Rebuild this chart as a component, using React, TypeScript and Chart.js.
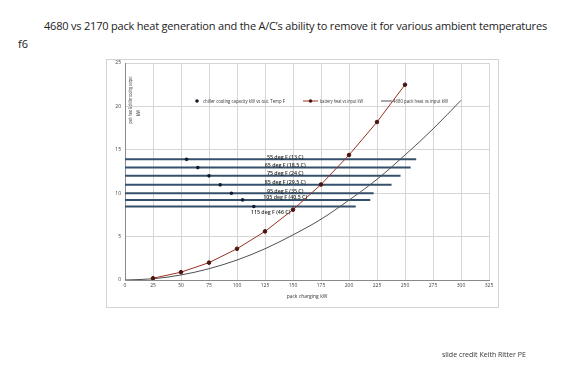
import React, { useEffect, useRef } from "react";
import { Chart, registerables } from "chart.js";

Chart.register(...registerables);

// chiller cooling capacity vs outside temperature
const chillerTempF = [55, 65, 75, 85, 95, 105, 115];
const chillerCapacityKw = [13.9, 12.95, 12.0, 10.96, 10.0, 9.23, 8.46];
const tempLineEndKw = [260, 255, 246, 238, 222, 219, 206];
const tempLabels = [
  "55 deg F (13 C)",
  "65 deg F (18.5 C)",
  "75 deg F (24 C)",
  "85 deg F (29.5 C)",
  "95 deg F (35 C)",
  "105 deg F (40.5 C)",
  "115 deg F (46 C)",
];

// battery (2170) heat vs charging power
const batteryChargeKw = [25, 50, 75, 100, 125, 150, 175, 200, 225, 250];
const batteryHeatKw = [0.2, 0.9, 2.0, 3.6, 5.6, 8.1, 11.0, 14.4, 18.2, 22.5];

// 4680 pack heat vs charging power
const pack4680ChargeKw = [0, 25, 50, 75, 100, 125, 150, 175, 200, 225, 250, 275, 300];
const pack4680HeatKw = [0, 0.14, 0.58, 1.3, 2.3, 3.6, 5.2, 7.0, 9.2, 11.6, 14.4, 17.4, 20.7];

const xTicksMax = 325;
const yTicksMax = 25;

const TITLE = "4680 vs 2170 pack heat generation and the A/C\u2019s ability to remove it for various ambient temperatures";
const Y_TITLE_1 = "pack heat & chiller cooling output";
const Y_TITLE_2 = "kW";
const X_TITLE = "pack charging kW";

const LINE_BLUE = "#34506b";
const RED = "#9a3020";
const FONT = "'Open Sans', sans-serif";
const LABEL_X_KW = 143;

function fitText(ctx: CanvasRenderingContext2D, text: string, x: number, y: number, width: number) {
  const w = ctx.measureText(text).width;
  const s = width / w;
  ctx.save();
  ctx.translate(x, y);
  ctx.scale(s, 1);
  ctx.fillText(text, 0, 0);
  ctx.restore();
}

export default function App() {
  const ref = useRef<HTMLCanvasElement>(null);

  useEffect(() => {
    const canvas = ref.current!;
    const tempDatasets = chillerCapacityKw.map((v, i) => ({
      type: "line" as const,
      label: tempLabels[i],
      data: [
        { x: 0, y: v },
        { x: tempLineEndKw[i], y: v },
      ],
      borderColor: LINE_BLUE,
      borderWidth: 2,
      pointRadius: 0,
      showLine: true,
    }));

    const decor = {
      id: "decor",
      beforeDraw(chart: any) {
        const ctx = chart.ctx;
        ctx.save();
        ctx.strokeStyle = "#d4d4d4";
        ctx.lineWidth = 1;
        ctx.strokeRect(106.5, 59.5, 392, 248);
        ctx.restore();
      },
      afterDatasetsDraw(chart: any) {
        const ctx = chart.ctx;
        const xs = chart.scales.x;
        const ys = chart.scales.y;
        ctx.save();
        // temperature labels
        ctx.font = `600 5.3px ${FONT}`;
        ctx.fillStyle = "#1e1e1e";
        ctx.textAlign = "center";
        ctx.textBaseline = "middle";
        tempLabels.forEach((t, i) => {
          const last = i === tempLabels.length - 1;
          const x = xs.getPixelForValue(last ? LABEL_X_KW - 13 : LABEL_X_KW);
          const y = ys.getPixelForValue(chillerCapacityKw[i]) + (last ? 6 : -2);
          ctx.fillText(t, x, y);
        });
        // legend
        const ds = chart.data.datasets;
        const ly = 101;
        ctx.font = `5.5px ${FONT}`;
        ctx.textAlign = "left";
        ctx.fillStyle = "#333";
        // item 1: marker only
        ctx.beginPath();
        ctx.fillStyle = ds[0].backgroundColor;
        ctx.arc(197, ly, 1.8, 0, Math.PI * 2);
        ctx.fill();
        ctx.fillStyle = "#333";
        fitText(ctx, ds[0].label, 203, ly, 82);
        // item 2: line + marker
        ctx.strokeStyle = ds[1].borderColor;
        ctx.lineWidth = 1;
        ctx.beginPath();
        ctx.moveTo(303, ly);
        ctx.lineTo(318, ly);
        ctx.stroke();
        ctx.beginPath();
        ctx.fillStyle = ds[1].pointBackgroundColor;
        ctx.arc(310.5, ly, 1.8, 0, Math.PI * 2);
        ctx.fill();
        ctx.fillStyle = "#333";
        fitText(ctx, ds[1].label, 320, ly, 43);
        // item 3: line
        ctx.strokeStyle = ds[2].borderColor;
        ctx.beginPath();
        ctx.moveTo(381, ly);
        ctx.lineTo(392, ly);
        ctx.stroke();
        fitText(ctx, ds[2].label, 393, ly, 55);
        // y axis title (inside plot, rotated)
        ctx.save();
        ctx.translate(131, 100);
        ctx.rotate(-Math.PI / 2);
        ctx.textAlign = "center";
        ctx.fillStyle = "#333";
        ctx.font = `5px ${FONT}`;
        fitText(ctx, Y_TITLE_1, 0, 0, 47);
        fitText(ctx, Y_TITLE_2, -13, 8, 6);
        ctx.restore();
        ctx.restore();
      },
    };

    const chart = new Chart(canvas, {
      type: "scatter",
      data: {
        datasets: [
          {
            label: "chiller cooling capacity kW vs out. Temp F",
            data: chillerTempF.map((t, i) => ({ x: t, y: chillerCapacityKw[i] })),
            backgroundColor: "#151a2a",
            borderColor: "#151a2a",
            pointRadius: 1.8,
            pointBorderWidth: 0,
          },
          {
            type: "line",
            label: "battery heat vs input kW",
            data: batteryChargeKw.map((x, i) => ({ x, y: batteryHeatKw[i] })),
            borderColor: RED,
            borderWidth: 1,
            pointBackgroundColor: "#4a1410",
            pointBorderColor: "#4a1410",
            pointRadius: 1.8,
            showLine: true,
          },
          {
            type: "line",
            label: "4680 pack heat vs input kW",
            data: pack4680ChargeKw.map((x, i) => ({ x, y: pack4680HeatKw[i] })),
            borderColor: "#505050",
            borderWidth: 1,
            pointRadius: 0,
            cubicInterpolationMode: "monotone",
            showLine: true,
          },
          ...tempDatasets,
        ] as any,
      },
      plugins: [decor],
      options: {
        animation: false,
        responsive: false,
        devicePixelRatio: 1,
        layout: { padding: { left: 108, top: 63, right: 91, bottom: 80 } },
        plugins: { legend: { display: false }, tooltip: { enabled: false } },
        scales: {
          x: {
            type: "linear",
            min: 0,
            max: xTicksMax,
            ticks: { stepSize: 25, font: { size: 5, family: FONT }, color: "#404040", padding: 3, maxRotation: 0 },
            grid: { color: "#d6d6d6", drawTicks: false, tickLength: 0 },
            border: { display: true, color: "#8a8a8a" },
            title: { display: true, text: X_TITLE, font: { size: 5, family: FONT }, color: "#333", padding: { top: 2, bottom: 0 } },
            afterFit(scale: any) {
              scale.height = 20;
            },
          },
          y: {
            min: 0,
            max: yTicksMax,
            ticks: { stepSize: 5, font: { size: 5, family: FONT }, color: "#404040", padding: 4 },
            grid: { color: "#d6d6d6", drawTicks: false, tickLength: 0 },
            border: { display: true, color: "#8a8a8a" },
            afterFit(scale: any) {
              scale.width = 17;
            },
          },
        },
      } as any,
    });
    return () => chart.destroy();
  }, []);

  return (
    <div style={{ position: "absolute", left: 0, top: 0, width: 580, height: 380, background: "#fff", overflow: "hidden" }}>
      <div
        style={{
          position: "absolute",
          left: 44,
          top: 18,
          fontFamily: FONT,
          fontSize: 11,
          color: "#222",
          whiteSpace: "nowrap",
          letterSpacing: -0.2,
        }}
      >
        {TITLE}
      </div>
      <div style={{ position: "absolute", left: 18, top: 36, fontFamily: FONT, fontSize: 11, color: "#222" }}>f6</div>
      <canvas ref={ref} width={580} height={380} style={{ position: "absolute", left: 0, top: 0, width: 580, height: 380 }} />
      <div
        style={{
          position: "absolute",
          left: 442,
          top: 350,
          fontFamily: FONT,
          fontSize: 7,
          color: "#333",
          whiteSpace: "nowrap",
        }}
      >
        slide credit Keith Ritter PE
      </div>
    </div>
  );
}
